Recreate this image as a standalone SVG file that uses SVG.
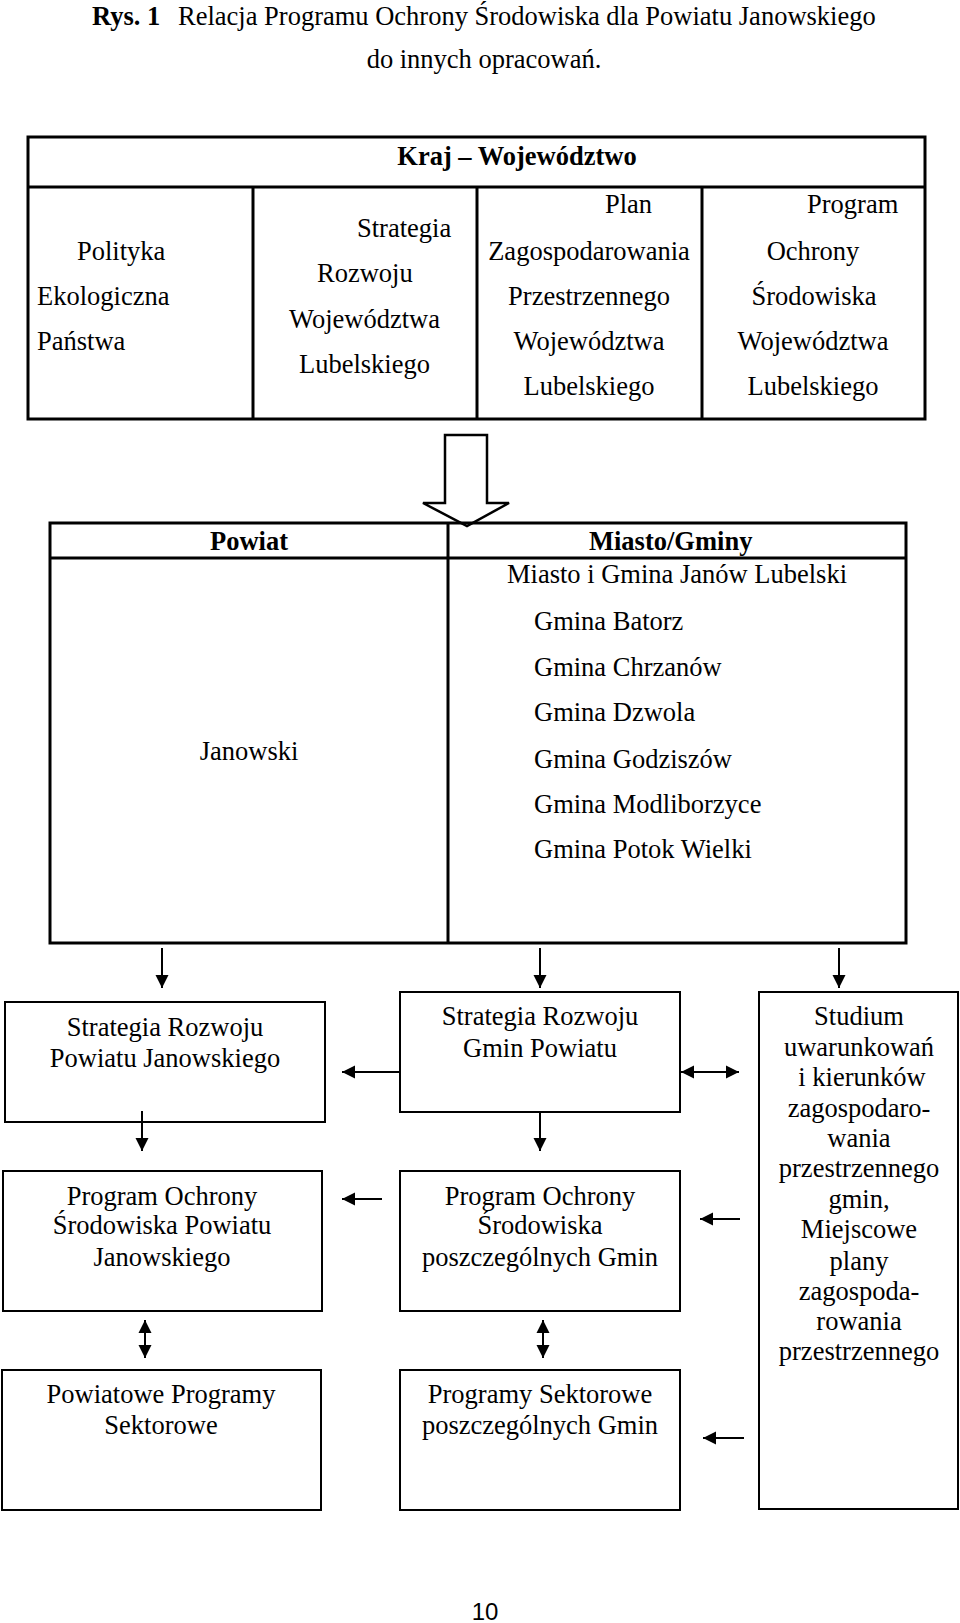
<svg xmlns="http://www.w3.org/2000/svg" width="960" height="1623" viewBox="0 0 960 1623">
<style>
text{font-family:"Liberation Serif","Times New Roman",serif;font-size:26.5px;fill:#000}
.b{font-weight:bold}
.m{text-anchor:middle}
.thick{fill:none;stroke:#000;stroke-width:3}
.thin{fill:#fff;stroke:#000;stroke-width:2}
.conn line{stroke:#000;stroke-width:2}
</style>
<defs>
<marker id="ah" markerUnits="userSpaceOnUse" markerWidth="14" markerHeight="14" refX="13" refY="6.5" orient="auto-start-reverse" viewBox="0 0 14 13">
<path d="M0,0 L13,6.5 L0,13 z" fill="#000"/>
</marker>
</defs>
<rect width="960" height="1623" fill="#fff"/>

<g id="title">
<text x="92" y="25"><tspan class="b">Rys. 1</tspan><tspan x="178">Relacja Programu Ochrony Środowiska dla Powiatu Janowskiego</tspan></text>
<text class="m" x="484" y="68">do innych opracowań.</text>
</g>

<g id="kraj">
<rect class="thick" x="28" y="137" width="897" height="282"/>
<line class="thick" x1="28" y1="187" x2="925" y2="187"/>
<line class="thick" x1="253" y1="187" x2="253" y2="419"/>
<line class="thick" x1="477" y1="187" x2="477" y2="419"/>
<line class="thick" x1="702" y1="187" x2="702" y2="419"/>
<text class="b m" x="517" y="165">Kraj – Województwo</text>
</g>
<g id="polityka">
<text x="77" y="260">Polityka</text>
<text x="37" y="305">Ekologiczna</text>
<text x="37" y="350">Państwa</text>
</g>
<g id="strategia-woj">
<text x="357" y="237">Strategia</text>
<text x="317" y="282">Rozwoju</text>
<text x="289" y="328">Województwa</text>
<text x="299" y="373">Lubelskiego</text>
</g>
<g id="plan-woj">
<text x="605" y="213">Plan</text>
<text class="m" x="589" y="260">Zagospodarowania</text>
<text class="m" x="589" y="305">Przestrzennego</text>
<text class="m" x="589" y="350">Województwa</text>
<text class="m" x="589" y="395">Lubelskiego</text>
</g>
<g id="program-woj">
<text x="807" y="213">Program</text>
<text class="m" x="813" y="260">Ochrony</text>
<text class="m" x="814" y="305">Środowiska</text>
<text class="m" x="813" y="350">Województwa</text>
<text class="m" x="813" y="395">Lubelskiego</text>
</g>

<g id="big-arrow">
<polygon points="445,435 487,435 487,503 509,503 467,526 423,503 445,503" fill="#fff" stroke="#000" stroke-width="2.5"/>
</g>

<g id="powiat-gminy">
<rect class="thick" x="50" y="523" width="856" height="420"/>
<line class="thick" x1="50" y1="558" x2="906" y2="558"/>
<line class="thick" x1="448" y1="523" x2="448" y2="943"/>
<text class="b m" x="249" y="550">Powiat</text>
<text class="m" x="249" y="760">Janowski</text>
<text class="b" x="589" y="550">Miasto/Gminy</text>
<text x="507" y="583">Miasto i Gmina Janów Lubelski</text>
<text x="534" y="630">Gmina Batorz</text>
<text x="534" y="676">Gmina Chrzanów</text>
<text x="534" y="721">Gmina Dzwola</text>
<text x="534" y="768">Gmina Godziszów</text>
<text x="534" y="813">Gmina Modliborzyce</text>
<text x="534" y="858">Gmina Potok Wielki</text>
</g>

<g id="srp">
<rect class="thin" x="5" y="1002" width="320" height="120"/>
<text class="m" x="165" y="1036">Strategia Rozwoju</text>
<text class="m" x="165" y="1067">Powiatu Janowskiego</text>
</g>
<g id="srg">
<rect class="thin" x="400" y="992" width="280" height="120"/>
<text class="m" x="540" y="1025">Strategia Rozwoju</text>
<text class="m" x="540" y="1057">Gmin Powiatu</text>
</g>
<g id="studium">
<rect class="thin" x="759" y="992" width="199" height="517"/>
<text class="m" x="859" y="1025">Studium</text>
<text class="m" x="859" y="1056">uwarunkowań</text>
<text class="m" x="862" y="1086">i kierunków</text>
<text class="m" x="859" y="1117">zagospodaro-</text>
<text class="m" x="859" y="1147">wania</text>
<text class="m" x="859" y="1177">przestrzennego</text>
<text class="m" x="859" y="1208">gmin,</text>
<text class="m" x="859" y="1238">Miejscowe</text>
<text class="m" x="859" y="1270">plany</text>
<text class="m" x="859" y="1300">zagospoda-</text>
<text class="m" x="859" y="1330">rowania</text>
<text class="m" x="859" y="1360">przestrzennego</text>
</g>
<g id="posp">
<rect class="thin" x="3" y="1171" width="319" height="140"/>
<text class="m" x="162" y="1205">Program Ochrony</text>
<text class="m" x="162" y="1234">Środowiska Powiatu</text>
<text class="m" x="162" y="1266">Janowskiego</text>
</g>
<g id="posg">
<rect class="thin" x="400" y="1171" width="280" height="140"/>
<text class="m" x="540" y="1205">Program Ochrony</text>
<text class="m" x="540" y="1234">Środowiska</text>
<text class="m" x="540" y="1266">poszczególnych Gmin</text>
</g>
<g id="pps">
<rect class="thin" x="2" y="1370" width="319" height="140"/>
<text class="m" x="161" y="1403">Powiatowe Programy</text>
<text class="m" x="161" y="1434">Sektorowe</text>
</g>
<g id="psg">
<rect class="thin" x="400" y="1370" width="280" height="140"/>
<text class="m" x="540" y="1403">Programy Sektorowe</text>
<text class="m" x="540" y="1434">poszczególnych Gmin</text>
</g>

<g id="connectors" class="conn">
<line x1="162" y1="948" x2="162" y2="988" marker-end="url(#ah)"/>
<line x1="540" y1="948" x2="540" y2="988" marker-end="url(#ah)"/>
<line x1="839" y1="948" x2="839" y2="988" marker-end="url(#ah)"/>
<line x1="142" y1="1111" x2="142" y2="1151" marker-end="url(#ah)"/>
<line x1="540" y1="1112" x2="540" y2="1151" marker-end="url(#ah)"/>
<line x1="400" y1="1072" x2="342" y2="1072" marker-end="url(#ah)"/>
<line x1="382" y1="1199" x2="342" y2="1199" marker-end="url(#ah)"/>
<line x1="681" y1="1072" x2="739" y2="1072" marker-start="url(#ah)" marker-end="url(#ah)"/>
<line x1="740" y1="1219" x2="700" y2="1219" marker-end="url(#ah)"/>
<line x1="744" y1="1438" x2="703" y2="1438" marker-end="url(#ah)"/>
<line x1="145" y1="1320" x2="145" y2="1358" marker-start="url(#ah)" marker-end="url(#ah)"/>
<line x1="543" y1="1320" x2="543" y2="1358" marker-start="url(#ah)" marker-end="url(#ah)"/>
</g>

<g id="page">
<text class="m" x="485" y="1620" style="font-family:'Liberation Sans',Arial,sans-serif;font-size:24px">10</text>
</g>
</svg>
